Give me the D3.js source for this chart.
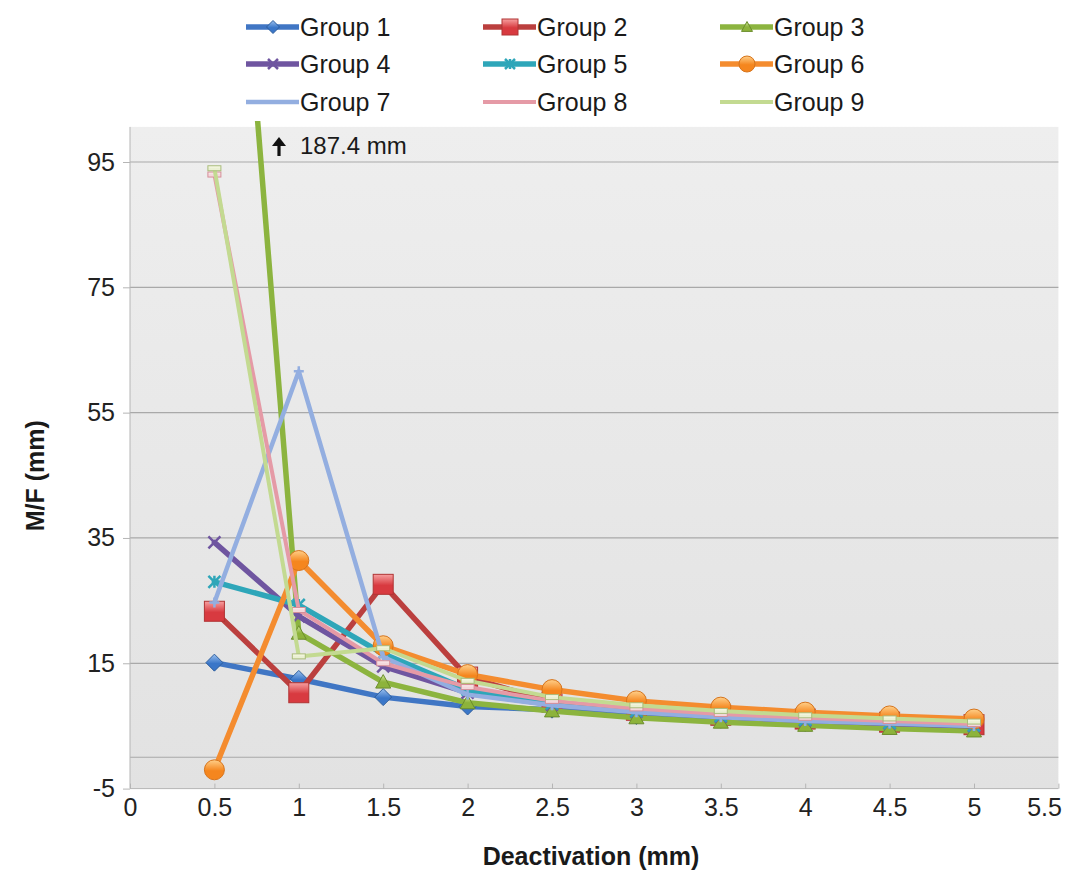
<!DOCTYPE html>
<html>
<head>
<meta charset="utf-8">
<script src="https://cdn.jsdelivr.net/npm/d3@7"></script>
<style>
  html, body { margin: 0; padding: 0; background: #fff; }
  svg { display: block; font-family: "Liberation Sans", Arial, sans-serif; }
</style>
</head>
<body>
<svg id="chart" width="1080" height="873"></svg>
<script>
// Deactivation steps (mm) shared by every group
const deactivation = [0.5, 1, 1.5, 2, 2.5, 3, 3.5, 4, 4.5, 5];

// M/F values (mm) per group
const group1 = [15.1, 12.5, 9.6, 8.1, 7.6, 6.6, 6.0, 5.5, 5.1, 4.7];
const group2 = [23.3, 10.3, 27.6, 12.8, 8.8, 7.5, 6.7, 6.1, 5.6, 5.2];
const group3 = [187.4, 19.8, 12.0, 8.7, 7.4, 6.3, 5.6, 5.1, 4.6, 4.2];
const group4 = [34.3, 22.5, 14.5, 10.3, 8.4, 7.3, 6.5, 5.9, 5.4, 5.0];
const group5 = [28.0, 24.3, 16.5, 10.8, 8.6, 7.4, 6.6, 6.0, 5.5, 5.1];
const group6 = [-2.0, 31.4, 17.8, 13.2, 10.8, 9.0, 8.0, 7.2, 6.6, 6.1];
const group7 = [24.7, 61.6, 16.0, 10.0, 8.3, 7.2, 6.4, 5.8, 5.4, 5.0];
const group8 = [93.0, 23.5, 15.0, 11.2, 9.0, 7.8, 6.9, 6.3, 5.8, 5.3];
const group9 = [94.0, 16.1, 17.4, 12.2, 9.6, 8.3, 7.4, 6.7, 6.2, 5.7];

const seriesNames = ["Group 1", "Group 2", "Group 3", "Group 4", "Group 5",
                     "Group 6", "Group 7", "Group 8", "Group 9"];
const seriesValues = [group1, group2, group3, group4, group5, group6, group7, group8, group9];

// Axis ticks
const xTicks = [0, 0.5, 1, 1.5, 2, 2.5, 3, 3.5, 4, 4.5, 5, 5.5];
const yTicks = [-5, 15, 35, 55, 75, 95];
const yGrid = [0, 15, 35, 55, 75, 95];

// Off-scale note for Group 3 at 0.5 mm
const offScaleNote = "187.4 mm";

// Styling per series: line colour, width, marker kind and marker colours
const styles = [
  { line: "#4076c4", width: 5.5, marker: "diamond",  light: "#9cc2f0", dark: "#3a76c8", stroke: "#2d5d9c", size: 17 },
  { line: "#bb3f3e", width: 5.5, marker: "square",   light: "#f7a0a0", dark: "#d83a40", stroke: "#b03434", size: 20 },
  { line: "#8cb43f", width: 5.5, marker: "triangle", light: "#d2e99c", dark: "#8db33b", stroke: "#6b8d2c", size: 15 },
  { line: "#6f55a0", width: 5.5, marker: "x",        light: "#8a70b8", dark: "#6f55a0", stroke: "#6f55a0", size: 12 },
  { line: "#2ea6b9", width: 5.5, marker: "star",     light: "#5bc0d0", dark: "#2ea6b9", stroke: "#2ea6b9", size: 12 },
  { line: "#f48c2f", width: 5.5, marker: "circle",   light: "#ffd08a", dark: "#f5861e", stroke: "#d6741c", size: 20 },
  { line: "#93aee0", width: 4.5, marker: "plus",     light: "#93aee0", dark: "#93aee0", stroke: "#93aee0", size: 10 },
  { line: "#e59aa6", width: 4,   marker: "dash",     light: "#fbeef0", dark: "#f3d7db", stroke: "#d68e98", size: 13 },
  { line: "#c3da91", width: 4,   marker: "dash",     light: "#fbfbea", dark: "#eaf0d2", stroke: "#a9bb7a", size: 13 }
];

const svg = d3.select("#chart");
const defs = svg.append("defs");

const x = d3.scaleLinear().domain([0, 5.5]).range([130, 1058.4]);
const y = d3.scaleLinear().domain([-5, 95]).range([788.6, 162]);
const yTop = 100.6;

const plotLeft = x(0), plotRight = x(5.5), plotTop = y(yTop), plotBottom = y(-5);

// Plot background
const bg = defs.append("linearGradient").attr("id", "plotBg")
  .attr("x1", 0).attr("y1", 0).attr("x2", 0).attr("y2", 1);
bg.append("stop").attr("offset", 0).attr("stop-color", "#eeeeee");
bg.append("stop").attr("offset", 1).attr("stop-color", "#e2e2e2");

svg.append("rect")
  .attr("x", plotLeft).attr("y", plotTop)
  .attr("width", plotRight - plotLeft).attr("height", plotBottom - plotTop)
  .attr("fill", "url(#plotBg)");

defs.append("clipPath").attr("id", "plotClip")
  .append("rect")
  .attr("x", plotLeft).attr("y", plotTop - 6)
  .attr("width", plotRight - plotLeft + 4).attr("height", plotBottom - plotTop + 6);

// Gridlines
svg.append("g").selectAll("line").data(yGrid).join("line")
  .attr("x1", plotLeft).attr("x2", plotRight)
  .attr("y1", d => y(d)).attr("y2", d => y(d))
  .attr("stroke", "#a9a9a9").attr("stroke-width", 1.2);

// Y axis
const yAxis = d3.axisLeft(y).tickValues(yTicks).tickSize(7).tickPadding(8).tickFormat(d => String(d));
const gy = svg.append("g").attr("transform", `translate(${plotLeft},0)`).call(yAxis);
gy.select(".domain").attr("stroke", "#b5b5b5").attr("d", `M-0,${plotTop}V${plotBottom}`);
gy.selectAll(".tick line").attr("stroke", "#b5b5b5");
gy.selectAll(".tick text").attr("font-size", 25).attr("fill", "#222")
  .attr("font-family", "Liberation Sans, Arial, sans-serif");

// X axis
const xAxis = d3.axisBottom(x).tickValues(xTicks).tickSize(-5).tickPadding(10).tickFormat(d => String(d));
const gx = svg.append("g").attr("transform", `translate(0,${plotBottom})`).call(xAxis);
gx.select(".domain").attr("stroke", "#b5b5b5").attr("d", `M${plotLeft},0H${plotRight}`);
gx.selectAll(".tick line").attr("stroke", "#b5b5b5");
gx.selectAll(".tick text").attr("font-size", 25).attr("fill", "#222")
  .attr("font-family", "Liberation Sans, Arial, sans-serif");
gx.selectAll(".tick text").filter(d => d === 5.5).attr("text-anchor", "end").attr("dx", 3);

// Axis titles
svg.append("text")
  .attr("transform", `translate(44,${(plotTop + plotBottom) / 2 + 18}) rotate(-90)`)
  .attr("text-anchor", "middle")
  .attr("font-size", 25).attr("font-weight", "bold").attr("fill", "#1a1a1a")
  .text("M/F (mm)");

svg.append("text")
  .attr("x", 591).attr("y", 865)
  .attr("text-anchor", "middle")
  .attr("font-size", 25).attr("font-weight", "bold").attr("fill", "#1a1a1a")
  .text("Deactivation (mm)");

// Marker gradients
styles.forEach((s, i) => {
  const g = defs.append("linearGradient").attr("id", "mk" + i)
    .attr("x1", 0).attr("y1", 0).attr("x2", 0).attr("y2", 1);
  g.append("stop").attr("offset", 0).attr("stop-color", s.light);
  g.append("stop").attr("offset", 0.55).attr("stop-color", s.dark);
  g.append("stop").attr("offset", 1).attr("stop-color", s.dark);
});

function drawMarker(sel, kind, s, i, cx, cy) {
  const h = s.size / 2;
  if (kind === "diamond") {
    sel.append("path").attr("d", `M${cx},${cy - h}L${cx + h},${cy}L${cx},${cy + h}L${cx - h},${cy}Z`)
      .attr("fill", `url(#mk${i})`).attr("stroke", s.stroke).attr("stroke-width", 1);
  } else if (kind === "square") {
    sel.append("rect").attr("x", cx - h).attr("y", cy - h).attr("width", s.size).attr("height", s.size)
      .attr("fill", `url(#mk${i})`).attr("stroke", s.stroke).attr("stroke-width", 1);
  } else if (kind === "triangle") {
    sel.append("path").attr("d", `M${cx},${cy - h}L${cx + h},${cy + h * 0.8}L${cx - h},${cy + h * 0.8}Z`)
      .attr("fill", `url(#mk${i})`).attr("stroke", s.stroke).attr("stroke-width", 1);
  } else if (kind === "circle") {
    sel.append("circle").attr("cx", cx).attr("cy", cy).attr("r", h)
      .attr("fill", `url(#mk${i})`).attr("stroke", s.stroke).attr("stroke-width", 1);
  } else if (kind === "x") {
    sel.append("path").attr("d", `M${cx - h},${cy - h}L${cx + h},${cy + h}M${cx + h},${cy - h}L${cx - h},${cy + h}`)
      .attr("stroke", s.stroke).attr("stroke-width", 2.5).attr("fill", "none");
  } else if (kind === "star") {
    sel.append("path").attr("d", `M${cx - h},${cy - h}L${cx + h},${cy + h}M${cx + h},${cy - h}L${cx - h},${cy + h}M${cx},${cy - h}V${cy + h}`)
      .attr("stroke", s.stroke).attr("stroke-width", 2.5).attr("fill", "none");
  } else if (kind === "plus") {
    sel.append("path").attr("d", `M${cx - h},${cy}H${cx + h}M${cx},${cy - h}V${cy + h}`)
      .attr("stroke", s.stroke).attr("stroke-width", 2.5).attr("fill", "none");
  } else if (kind === "dash") {
    sel.append("rect").attr("x", cx - h).attr("y", cy - 2.5).attr("width", s.size).attr("height", 5)
      .attr("fill", `url(#mk${i})`).attr("stroke", s.stroke).attr("stroke-width", 1);
  }
}

// Series lines and markers
const line = d3.line().x(d => x(d[0])).y(d => y(d[1]));
const series = svg.append("g").attr("clip-path", "url(#plotClip)");
seriesValues.forEach((vals, i) => {
  const s = styles[i];
  const pts = deactivation.map((d, k) => [d, vals[k]]);
  const g = series.append("g");
  g.append("path").datum(pts)
    .attr("d", line)
    .attr("fill", "none")
    .attr("stroke", s.line)
    .attr("stroke-width", s.width)
    .attr("stroke-linejoin", "round")
    .attr("stroke-linecap", "round");
  pts.filter(p => p[1] <= yTop).forEach(p => drawMarker(g, s.marker, s, i, x(p[0]), y(p[1])));
});

// Off-scale note
const note = svg.append("g");
const ax = 279, ay = 156;
note.append("path")
  .attr("d", `M${ax},${ay}V${ay - 12}`)
  .attr("stroke", "#111").attr("stroke-width", 3.2).attr("fill", "none");
note.append("path")
  .attr("d", `M${ax - 7},${ay - 10}L${ax},${ay - 19}L${ax + 7},${ay - 10}Z`)
  .attr("fill", "#111");
note.append("text")
  .attr("x", 300).attr("y", 154)
  .attr("font-size", 24).attr("fill", "#1a1a1a")
  .text(offScaleNote);

// Legend: three columns, three rows
const legendCols = [246, 483, 720];
const legendRows = [27, 64, 102];
const legend = svg.append("g");
seriesNames.forEach((name, i) => {
  const s = styles[i];
  const lx = legendCols[i % 3], ly = legendRows[Math.floor(i / 3)];
  const g = legend.append("g");
  g.append("line").attr("x1", lx).attr("x2", lx + 53).attr("y1", ly).attr("y2", ly)
    .attr("stroke", s.line).attr("stroke-width", s.width);
  if (i < 6) {
    const ls = Object.assign({}, s, { size: Math.max(10, s.size - 4) });
    drawMarker(g, s.marker, ls, i, lx + 27, ly);
  }
  g.append("text").attr("x", lx + 54).attr("y", ly + 9)
    .attr("font-size", 25).attr("fill", "#1a1a1a")
    .text(name);
});
</script>
</body>
</html>
